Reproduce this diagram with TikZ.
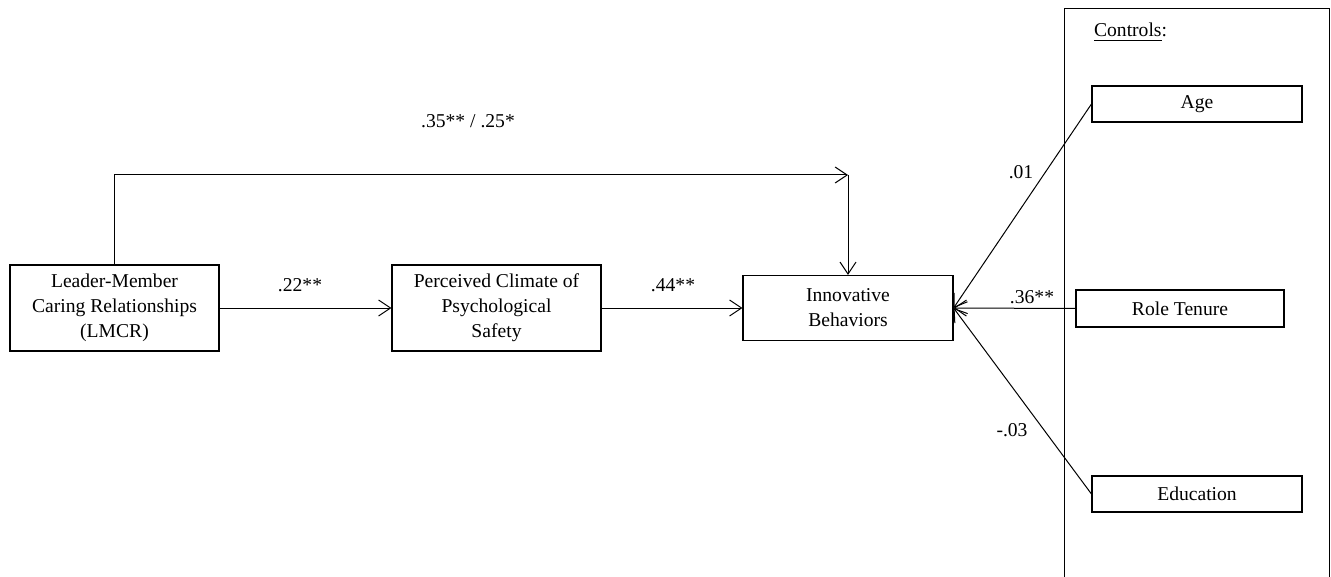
\documentclass[tikz,border=0pt]{standalone}
\usepackage{fontspec}
\setmainfont{Liberation Serif}
\usetikzlibrary{arrows.meta}

\tikzset{
  var/.style={draw, line width=0.55pt, align=center, inner sep=0pt,
    font=\fontsize{9.8}{12.5}\selectfont},
  arr/.style={line width=0.5pt, -{Straight Barb[length=6pt,width=8pt,line width=0.5pt]}},
  coef/.style={font=\fontsize{9.8}{12.5}\selectfont}
}

\begin{document}
\begin{tikzpicture}[x=0.5pt, y=-0.5pt]
        \useasboundingbox (0,0) rectangle (1331,577);

        % Controls frame
        \draw[line width=0.5pt] (1064,590) -- (1064,9) -- (1329,9) -- (1329,590);
        \node[coef, anchor=base west] (ctrl) at (1087,37) {\underline{Controls}:};

        % Main variables
        \node[var, minimum width=104.5pt, minimum height=43pt] (lmcr) at (114.5,308)
          {Leader-Member\\Caring Relationships\\(LMCR)};
        \node[var, minimum width=104.5pt, minimum height=43pt] (pcps) at (496.5,308)
          {Perceived Climate of\\Psychological\\Safety};
        \node[var, minimum width=105pt, minimum height=32.5pt] (ib) at (848,308)
          {Innovative\\Behaviors};

        % Control variables
        \node[var, minimum width=105pt, minimum height=18pt] (age) at (1197,104) {Age};
        \node[var, minimum width=104pt, minimum height=18.5pt] (tenure) at (1180,308.5) {Role Tenure};
        \node[var, minimum width=105pt, minimum height=18pt] (edu) at (1197,494) {Education};

        % Paths
        \coordinate (corner) at (848,175);
        \draw[arr] (lmcr.north) |- (corner);
        \draw[arr] (corner) -- (ib.north);
        \draw[arr] (lmcr) -- (pcps);
        \draw[arr] (pcps) -- (ib);

        \draw[arr] (age.west) -- (ib.east);
        \draw[arr] (tenure.west) -- (ib.east);
        \draw[arr] (edu.west) -- (ib.east);

        % Coefficients
        \node[coef] (c1) at (468,121) {.35** / .25*};
        \node[coef] (c2) at (300,285) {.22**};
        \node[coef] (c3) at (673,285) {.44**};
        \node[coef] (c4) at (1021,172) {.01};
        \node[coef] (c5) at (1032,297) {.36**};
        \node[coef] (c6) at (1012,430) {-.03};
\end{tikzpicture}
\end{document}
